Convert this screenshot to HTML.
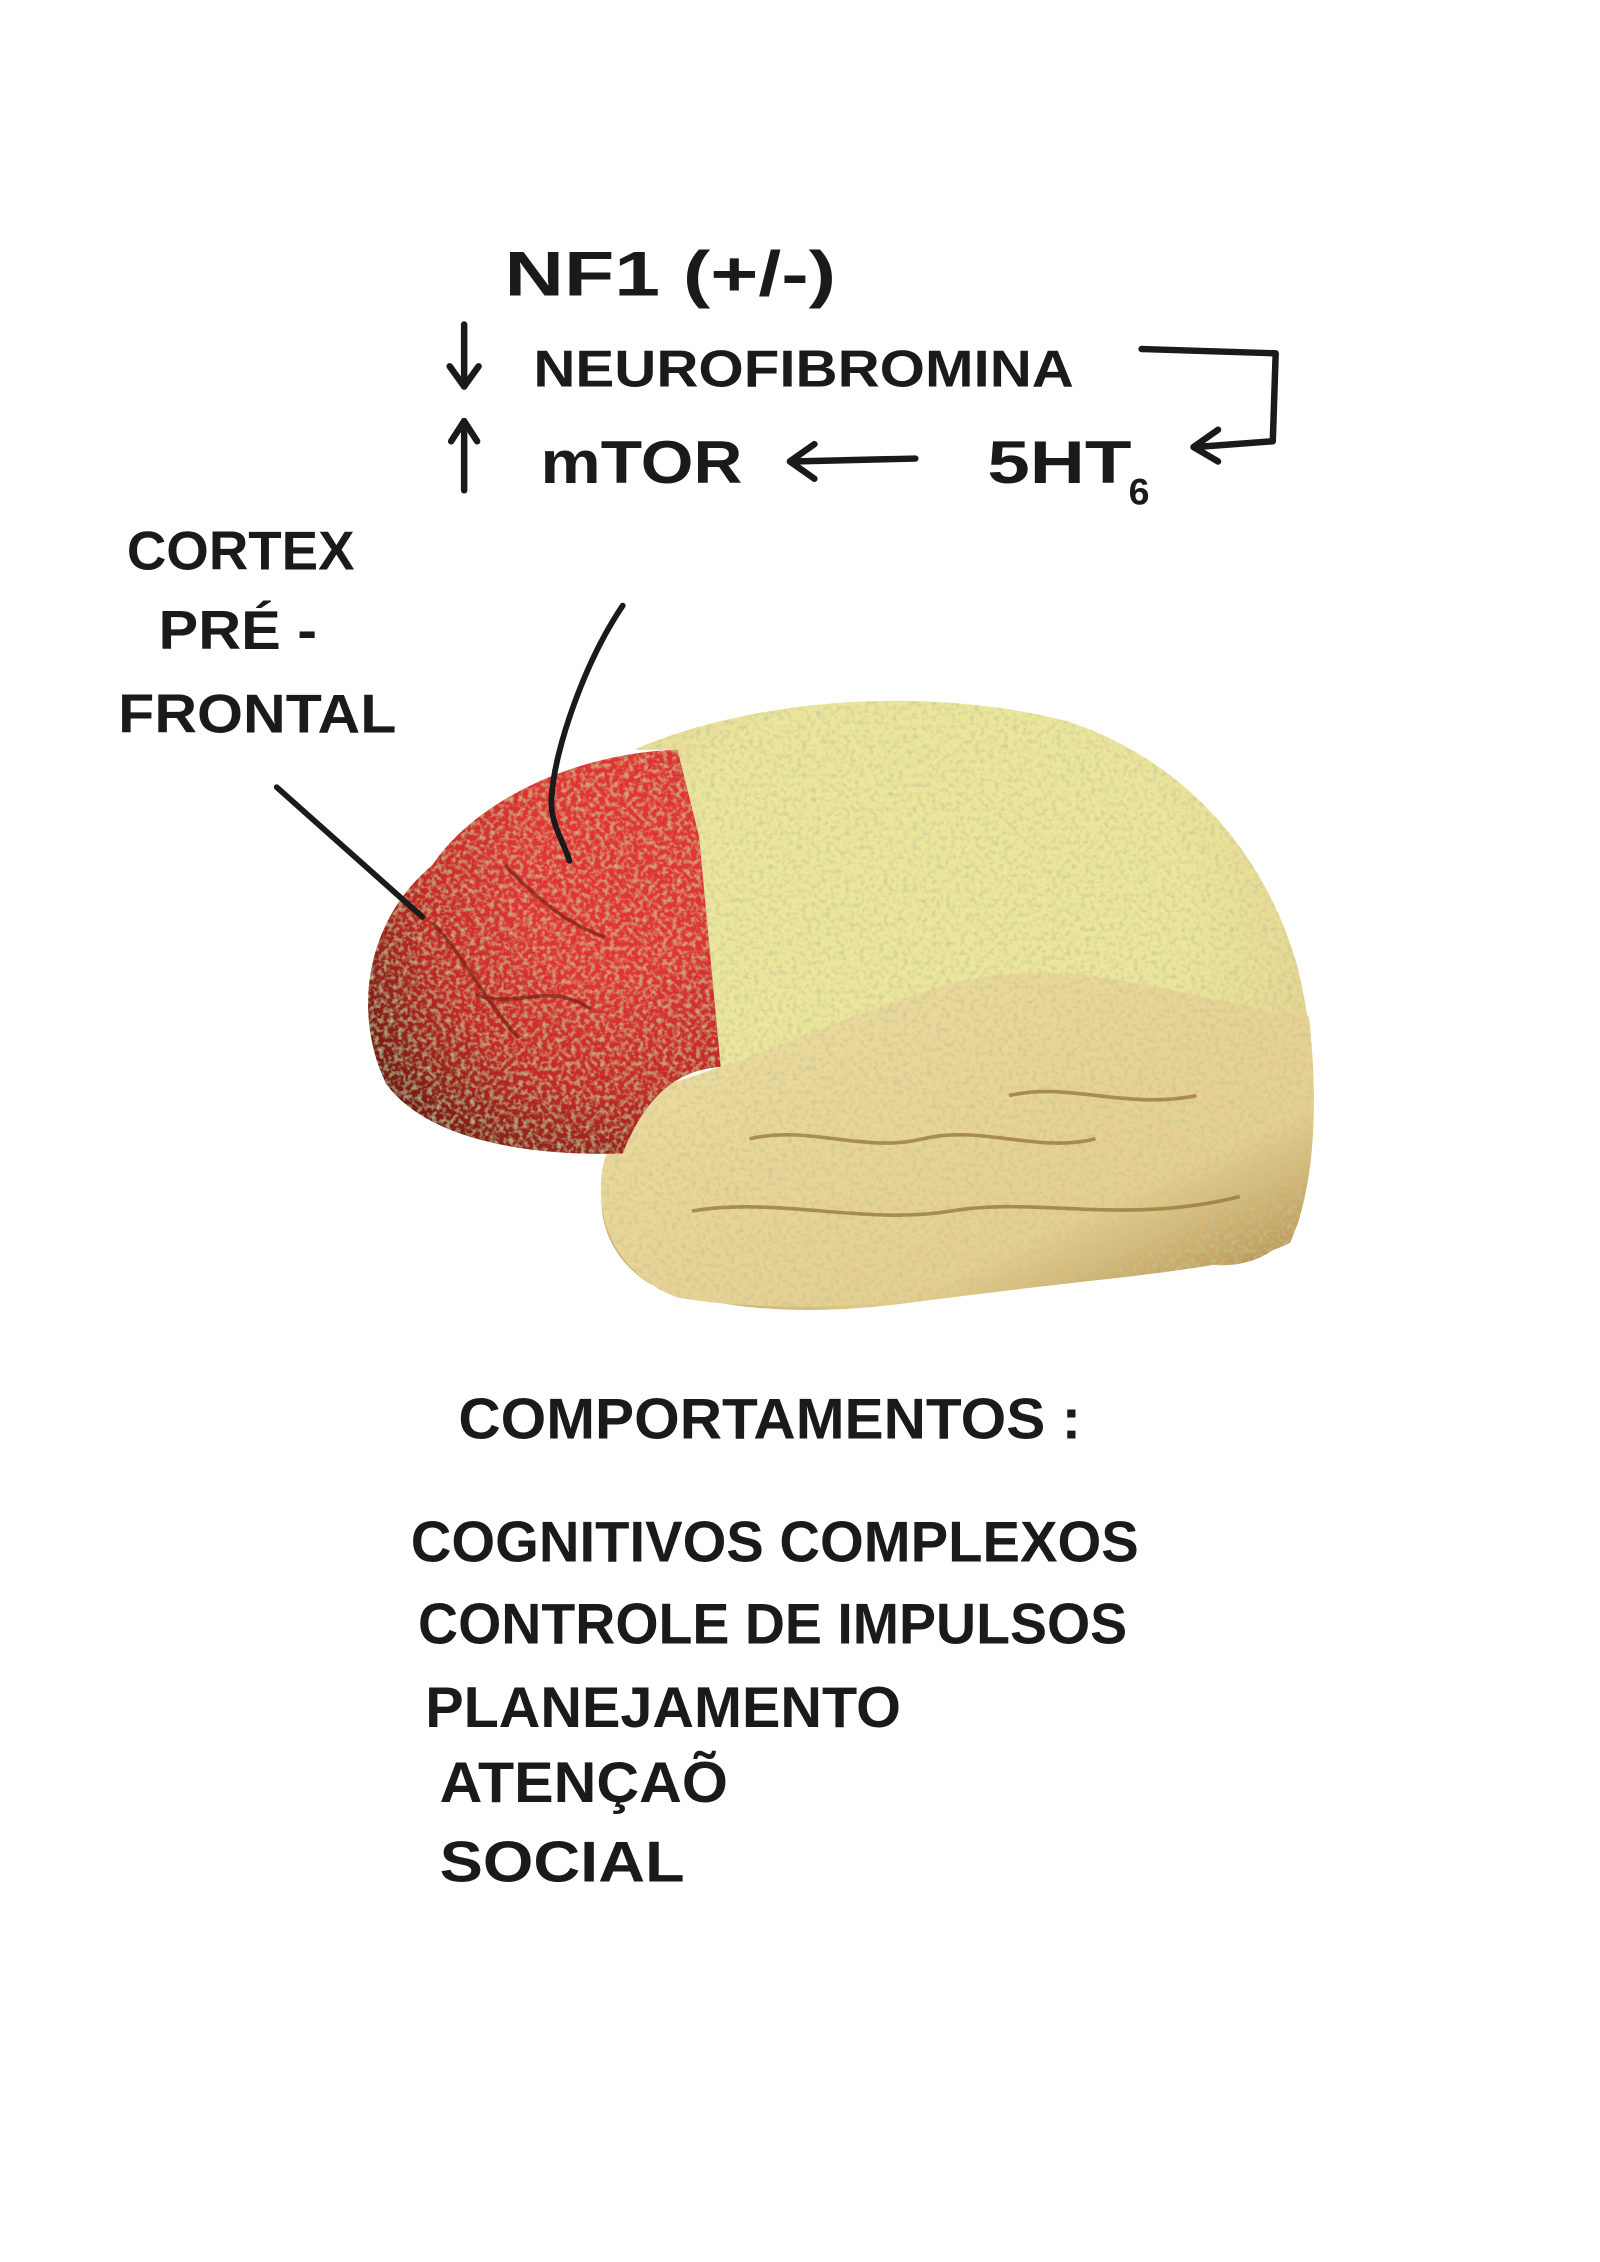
<!DOCTYPE html>
<html><head><meta charset="utf-8">
<style>
html,body{margin:0;padding:0;background:#fff;}
svg{display:block;}
text{font-family:"Liberation Sans",sans-serif;fill:#1a1a1a;font-weight:bold;}
</style></head>
<body>
<svg width="1600" height="2262" viewBox="0 0 1110 1569" xmlns="http://www.w3.org/2000/svg">
<defs>
<filter id="tex" x="0" y="0" width="100%" height="100%">
<feTurbulence type="fractalNoise" baseFrequency="0.3" numOctaves="2" seed="3" result="n"/>
<feColorMatrix in="n" type="matrix" values="0 0 0 0 0.55  0 0 0 0 0.55  0 0 0 0 0.3  0 0 0 1.8 -0.8" result="m"/>
<feComposite in="m" in2="SourceGraphic" operator="in" result="c"/>
<feMerge><feMergeNode in="SourceGraphic"/><feMergeNode in="c"/></feMerge>
</filter>
<radialGradient id="yg" cx="0.45" cy="0.35" r="0.75">
<stop offset="0.5" stop-color="#ebe69c"/><stop offset="0.85" stop-color="#e3cf8e"/><stop offset="1" stop-color="#b88f4c"/>
</radialGradient>
<linearGradient id="tg" x1="0" y1="0" x2="1" y2="1">
<stop offset="0" stop-color="#eddea0"/><stop offset="0.7" stop-color="#e5cf90"/><stop offset="1" stop-color="#a9803f"/>
</linearGradient>
<radialGradient id="rg" cx="0.7" cy="0.3" r="0.85">
<stop offset="0.3" stop-color="#e03636"/><stop offset="0.65" stop-color="#c42a28"/><stop offset="1" stop-color="#6e1a12"/>
</radialGradient>
</defs>

<text x="350" y="205" font-size="44" textLength="230" lengthAdjust="spacingAndGlyphs">NF1 (+/-)</text>
<text x="370" y="268" font-size="36" textLength="375" lengthAdjust="spacingAndGlyphs">NEUROFIBROMINA</text>
<text x="375" y="335" font-size="42" textLength="140" lengthAdjust="spacingAndGlyphs">mTOR</text>
<text x="685" y="335" font-size="42" textLength="100" lengthAdjust="spacingAndGlyphs">5HT</text>
<text x="783" y="350" font-size="26">6</text>
<g stroke="#1a1a1a" stroke-width="4.5" fill="none" stroke-linecap="round" stroke-linejoin="round">
<path d="M322,225 L322,268"/><path d="M312,254 L322,268 L332,254"/>
<path d="M322,340 L322,292"/><path d="M313,306 L322,292 L331,306"/>
<path d="M635,318 L550,320"/><path d="M565,308 L548,320 L565,332"/>
<path d="M792,242 L885,245 L883,306 L830,310"/><path d="M845,298 L828,310 L845,320"/>
</g>

<text x="88" y="395" font-size="38" textLength="158" lengthAdjust="spacingAndGlyphs">CORTEX</text>
<text x="110" y="450" font-size="38" textLength="110" lengthAdjust="spacingAndGlyphs">PRÉ -</text>
<text x="82" y="508" font-size="38" textLength="193" lengthAdjust="spacingAndGlyphs">FRONTAL</text>

<g filter="url(#tex)">
<path d="M440,520 C520,485 640,475 740,500 C830,530 880,600 900,670 C915,730 915,800 900,850 C885,872 862,880 840,877 C780,885 700,895 620,905 C560,912 500,910 450,890 C420,870 412,840 420,810 L440,760 L500,740 L485,580 L470,520 Z" fill="url(#yg)"/>
<path d="M500,740 C560,720 640,680 700,675 C780,670 850,700 908,705 C915,765 912,825 895,862 C860,880 780,885 700,895 C620,905 540,912 470,900 C430,885 412,850 418,810 C425,780 450,755 500,740 Z" fill="url(#tg)"/>
<path d="M300,600 C330,555 400,522 470,520 L485,580 L500,740 C470,742 448,760 432,800 C380,802 300,795 268,752 C245,705 252,640 300,600 Z" fill="url(#rg)"/>
</g>
<g stroke="#7a2018" stroke-width="2.5" fill="none" opacity="0.7">
<path d="M350,600 C370,620 390,640 420,650"/><path d="M330,690 C360,700 380,680 410,700"/><path d="M300,640 C320,660 340,700 360,720"/>
</g>
<g stroke="#8f7034" stroke-width="2.5" fill="none" opacity="0.7">
<path d="M520,790 C560,780 600,800 640,790 C680,780 720,800 760,790"/><path d="M480,840 C540,830 600,850 660,840 C720,830 780,850 860,830"/><path d="M700,760 C740,750 780,770 830,760"/>
</g>

<g stroke="#1a1a1a" stroke-width="4" fill="none" stroke-linecap="round">
<path d="M192,546 L293,636"/>
<path d="M432,420 C405,460 385,520 383,550 C380,570 392,585 395,597"/>
</g>

<text x="318" y="998" font-size="40" textLength="432" lengthAdjust="spacingAndGlyphs">COMPORTAMENTOS :</text>
<text x="285" y="1083" font-size="40" textLength="505" lengthAdjust="spacingAndGlyphs">COGNITIVOS COMPLEXOS</text>
<text x="290" y="1140" font-size="40" textLength="492" lengthAdjust="spacingAndGlyphs">CONTROLE DE IMPULSOS</text>
<text x="295" y="1198" font-size="40" textLength="330" lengthAdjust="spacingAndGlyphs">PLANEJAMENTO</text>
<text x="305" y="1250" font-size="40" textLength="200" lengthAdjust="spacingAndGlyphs">ATENÇAÕ</text>
<text x="305" y="1305" font-size="40" textLength="170" lengthAdjust="spacingAndGlyphs">SOCIAL</text>
</svg>
</body></html>
